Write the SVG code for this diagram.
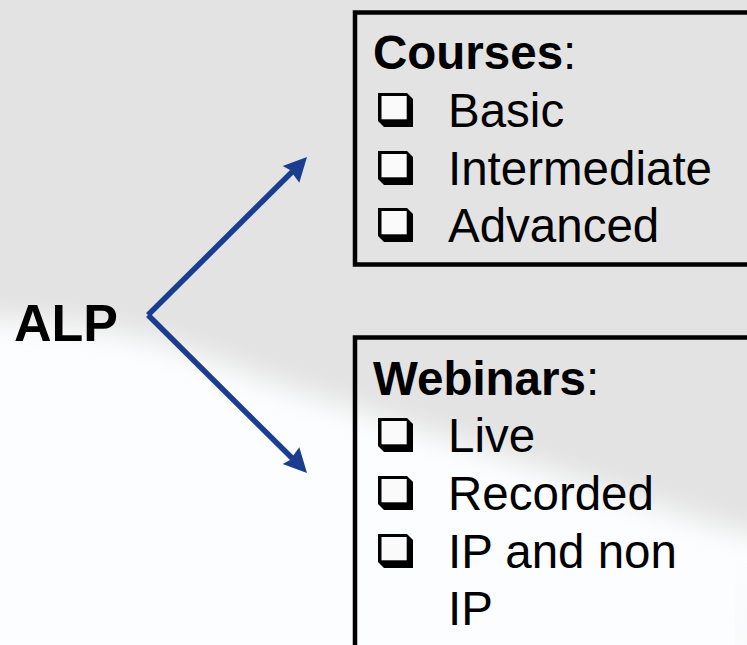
<svg xmlns="http://www.w3.org/2000/svg" xmlns:xlink="http://www.w3.org/1999/xlink" width="747" height="645" viewBox="0 0 747 645">
<style>
.t{font-family:"Liberation Sans",Arial,sans-serif;font-size:47.5px;fill:#000}
.b{font-weight:bold}
.box{fill:none;stroke:#000;stroke-width:4.5}
.arr{stroke:#1B3D8F;stroke-width:5.5;fill:none}
.head{fill:#1B3D8F}
</style>
<defs>
<filter id="blur" x="-20%" y="-20%" width="140%" height="140%"><feGaussianBlur stdDeviation="14"/></filter>
<g id="cb">
<path d="M0,-34 H29 L35,-28 V0 H6 L0,-6 Z" fill="#000"/>
<rect x="3.5" y="-31" width="25.2" height="23.3" fill="#fafafa"/>
</g>
</defs>
<rect width="747" height="645" fill="#fcfdfe"/>
<path d="M-40,-40 H800 V545 C720,530 640,500 540,468 C430,432 300,395 200,355 C120,328 60,320 -40,318 Z" fill="#e3e3e3" filter="url(#blur)"/>
<path d="M738,570 C748,590 752,620 752,660 H742 C742,620 742,595 738,570 Z" fill="#e3e3e3" filter="url(#blur)" opacity="0.5"/>
<g id="alp"><text class="t b" x="14" y="341" style="font-size:52px">ALP</text></g>
<g id="connectors">
<line class="arr" x1="148" y1="315" x2="293" y2="171"/>
<polygon class="head" points="307,157 282.7,166 290,170 299.3,182.7"/>
<line class="arr" x1="148" y1="315" x2="293" y2="459"/>
<polygon class="head" points="307,473 282.7,464 290,460 299.3,447.3"/>
</g>
<g id="courses">
<rect class="box" x="355" y="12.5" width="420" height="252"/>
<text class="t" x="373" y="69"><tspan class="b">Courses</tspan>:</text>
<use xlink:href="#cb" transform="translate(378,127)"/>
<text class="t" x="448" y="127">Basic</text>
<use xlink:href="#cb" transform="translate(378,185)"/>
<text class="t" x="448" y="185">Intermediate</text>
<use xlink:href="#cb" transform="translate(378,242)"/>
<text class="t" x="448" y="242">Advanced</text>
</g>
<g id="webinars">
<rect class="box" x="355" y="337.5" width="420" height="340"/>
<text class="t" x="373" y="395"><tspan class="b">Webinars</tspan>:</text>
<use xlink:href="#cb" transform="translate(378,452)"/>
<text class="t" x="448" y="452">Live</text>
<use xlink:href="#cb" transform="translate(378,510)"/>
<text class="t" x="448" y="510">Recorded</text>
<use xlink:href="#cb" transform="translate(378,568)"/>
<text class="t" x="448" y="568">IP and non</text>
<text class="t" x="448" y="625">IP</text>
</g>
</svg>
